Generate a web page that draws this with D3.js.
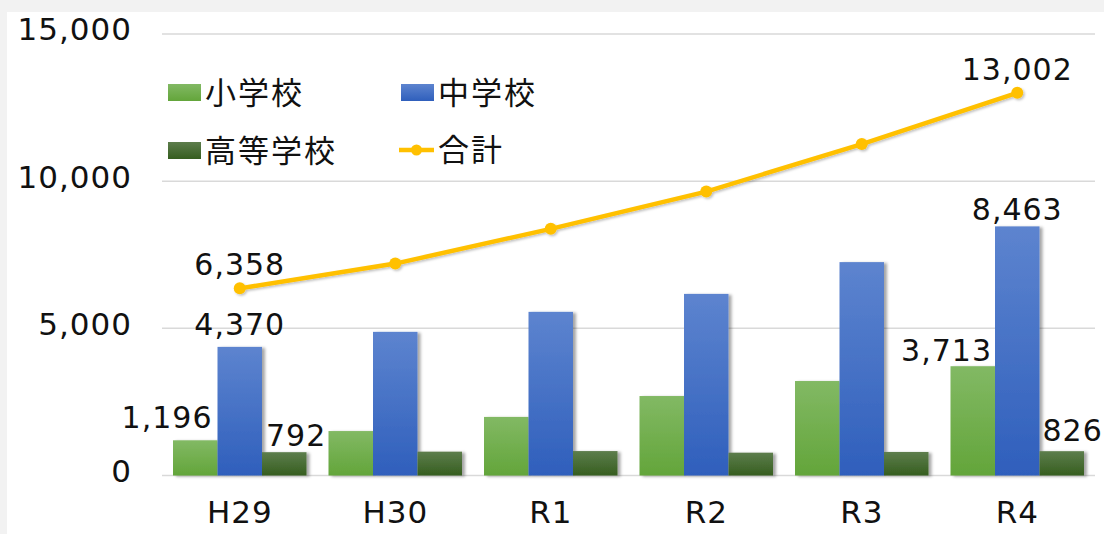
<!DOCTYPE html>
<html><head><meta charset="utf-8">
<script src="https://cdn.jsdelivr.net/npm/d3@7"></script>
<style>
html,body{margin:0;padding:0;background:#f2f2f2;}
svg{display:block;}
text{font-family:"DejaVu Sans","Noto Sans CJK JP",sans-serif;fill:#111;}
.jp{font-family:"Noto Sans CJK JP",sans-serif;}
</style></head>
<body>
<svg id="chart" width="1104" height="534"></svg>
<script>
const categories = ["H29","H30","R1","R2","R3","R4"];
const seriesNames = ["小学校","中学校","高等学校"];
const elementary = [1196, 1510, 1990, 2700, 3210, 3713];
const juniorHigh = [4370, 4880, 5560, 6170, 7250, 8463];
const highSchool = [792, 810, 830, 775, 800, 826];
const totals = [6358, 7200, 8380, 9645, 11260, 13002];
const totalName = "合計";
const yTicks = [0, 5000, 10000, 15000];

const svg = d3.select("#chart");
const W = 1104, H = 534;
const fmt = d3.format(",");

svg.append("rect").attr("x",7).attr("y",12).attr("width",W-7).attr("height",H-12).attr("fill","#fff");

const defs = svg.append("defs");
const grads = [["gE","#82b964","#63a53a"],["gJ","#5d84cf","#2f5fbc"],["gH","#5d7d4c","#365e1f"]];
grads.forEach(([id,a,b])=>{
  const g = defs.append("linearGradient").attr("id",id).attr("x1",0).attr("y1",0).attr("x2",0).attr("y2",1);
  g.append("stop").attr("offset","0%").attr("stop-color",a);
  g.append("stop").attr("offset","100%").attr("stop-color",b);
});
const f = defs.append("filter").attr("id","sh").attr("x","-20%").attr("y","-20%").attr("width","150%").attr("height","140%");
f.append("feDropShadow").attr("dx",3).attr("dy",1).attr("stdDeviation",1.6).attr("flood-color","#000").attr("flood-opacity",0.35);
const f2 = defs.append("filter").attr("id","sh2").attr("x","-10%").attr("y","-30%").attr("width","120%").attr("height","160%");
f2.append("feDropShadow").attr("dx",1.5).attr("dy",1.5).attr("stdDeviation",1.2).attr("flood-color","#000").attr("flood-opacity",0.25);

const left = 162, right = 1095;
const y = d3.scaleLinear().domain([0,15000]).range([475.5,34]);
const x0 = d3.scaleBand().domain(categories).range([left,right]).padding(0);
const x1 = d3.scaleBand().domain(seriesNames).range([11, x0.bandwidth()-11]).padding(0);

svg.append("g").selectAll("line").data(yTicks).join("line")
  .attr("x1",left).attr("x2",right).attr("y1",d=>y(d)).attr("y2",d=>y(d))
  .attr("stroke","#d9d9d9").attr("stroke-width",1.5);

const yAxis = d3.axisLeft(y).tickValues(yTicks).tickFormat(fmt).tickSize(0).tickPadding(0);
const ya = svg.append("g").attr("transform","translate(132,-4)").call(yAxis);
ya.select(".domain").remove();
ya.selectAll("text").attr("font-size",31).attr("font-family",null).attr("fill","#111").attr("letter-spacing",1);

const xAxis = d3.axisBottom(x0).tickSize(0).tickPadding(0);
const xa = svg.append("g").attr("transform","translate(0,501)").call(xAxis);
xa.select(".domain").remove();
xa.selectAll("text").attr("font-size",31).attr("font-family",null).attr("fill","#111").attr("dy","0.71em").attr("letter-spacing",1);

const seriesData = [elementary, juniorHigh, highSchool];
const gradIds = ["gE","gJ","gH"];
const barG = svg.append("g");
seriesData.forEach((vals,si)=>{
  barG.append("g").selectAll("rect").data(vals).join("rect")
    .attr("x",(d,i)=>x0(categories[i])+x1(seriesNames[si]))
    .attr("width",x1.bandwidth())
    .attr("y",d=>y(d)).attr("height",d=>y(0)-y(d))
    .attr("fill",`url(#${gradIds[si]})`).attr("filter","url(#sh)");
});

const cx = i => x0(categories[i]) + x0.bandwidth()/2;
const line = d3.line().x((d,i)=>cx(i)).y(d=>y(d));
const lg = svg.append("g").attr("filter","url(#sh2)");
lg.append("path").datum(totals).attr("d",line).attr("fill","none").attr("stroke","#ffc000").attr("stroke-width",4.5);
lg.selectAll("circle").data(totals).join("circle").attr("cx",(d,i)=>cx(i)).attr("cy",d=>y(d)).attr("r",6).attr("fill","#ffc000");

const lbl = (xx,yy,t,anchor)=>svg.append("text").attr("x",xx).attr("y",yy).attr("text-anchor",anchor).attr("font-size",30).attr("letter-spacing",1).text(t);
const n = categories.length-1;
lbl(cx(0), y(totals[0])-13, fmt(totals[0]), "middle");
lbl(cx(n), y(totals[n])-13, fmt(totals[n]), "middle");
const bx = (i,si)=>x0(categories[i])+x1(seriesNames[si]);
const bw = x1.bandwidth();
lbl(bx(0,1)+bw/2, y(juniorHigh[0])-12, fmt(juniorHigh[0]), "middle");
lbl(bx(n,1)+bw/2, y(juniorHigh[n])-6, fmt(juniorHigh[n]), "middle");
lbl(bx(0,0)+bw-5, y(elementary[0])-12, fmt(elementary[0]), "end");
lbl(bx(n,0)+bw-3, y(elementary[n])-5, fmt(elementary[n]), "end");
lbl(bx(0,2)+4, y(highSchool[0])-6, fmt(highSchool[0]), "start");
lbl(bx(n,2)+3, y(highSchool[n])-10, fmt(highSchool[n]), "start");

const leg = svg.append("g");
const legItems = [
  {name:seriesNames[0], grad:"gE", x:168, y:84},
  {name:seriesNames[1], grad:"gJ", x:401, y:84},
  {name:seriesNames[2], grad:"gH", x:168, y:142},
];
legItems.forEach(it=>{
  leg.append("rect").attr("x",it.x).attr("y",it.y).attr("width",33).attr("height",17).attr("fill",`url(#${it.grad})`);
  leg.append("text").attr("class","jp").attr("x",it.x+37).attr("y",it.y+8.5).attr("dy","0.36em").attr("font-size",31).attr("letter-spacing",2).text(it.name);
});
leg.append("line").attr("x1",399).attr("x2",434).attr("y1",150).attr("y2",150).attr("stroke","#ffc000").attr("stroke-width",4.5);
leg.append("circle").attr("cx",416.5).attr("cy",150).attr("r",5.5).attr("fill","#ffc000");
leg.append("text").attr("class","jp").attr("x",438).attr("y",150).attr("dy","0.36em").attr("font-size",31).attr("letter-spacing",2).text(totalName);
</script>
</body></html>
